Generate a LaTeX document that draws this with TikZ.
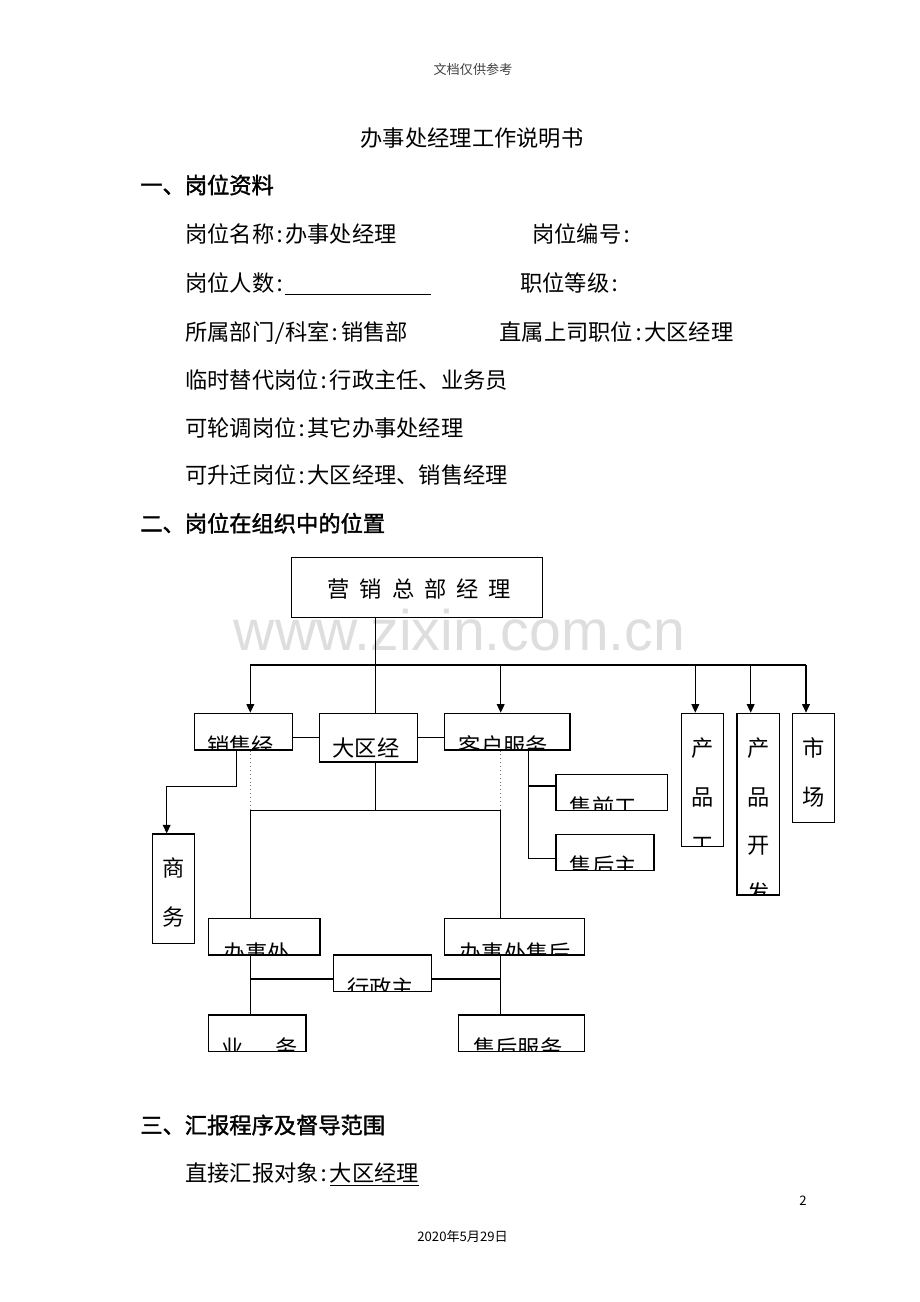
\documentclass[tikz,border=0pt]{standalone}
\usepackage{fontspec}
\setmainfont{Noto Sans CJK SC}[CharacterWidth=Half]
\newfontfamily\headfont{Noto Sans CJK SC}[CharacterWidth=Half,FakeBold=1.6]
\newfontfamily\numfont{Noto Sans CJK SC}
\newfontfamily\wmfont{Liberation Sans}
\usetikzlibrary{arrows.meta}
\tikzstyle{orgbox} = [rectangle, draw=black, line width=0.8pt, inner sep=0pt]
\tikzstyle{link} = [line width=0.75pt]
\tikzstyle{arrow} = [line width=0.75pt,-{Triangle[length=5.5pt,width=5pt]}]
\tikzstyle{dots} = [dotted, black!55, line width=0.5pt]
\tikzstyle{boxtext} = [inner sep=0pt, minimum width=0pt, minimum height=0pt, draw=none, fill=none, font=\fontsize{14.4pt}{17pt}\selectfont]
\tikzstyle{doctext} = [anchor=base west, inner sep=0pt, font=\fontsize{14.4pt}{17pt}\selectfont]
\tikzstyle{small} = [inner sep=0pt, font=\numfont\fontsize{8.5pt}{10pt}\selectfont]
\tikzstyle{wmark} = [anchor=base, inner sep=0pt, text=black!13, font=\wmfont\fontsize{37pt}{40pt}\selectfont]
% box size in picture pixels
\tikzset{size/.style 2 args={minimum width=#1*0.64705pt, minimum height=#2*0.64705pt}}
% text cut off by the box border
\tikzset{cuttext/.style n args={3}{path picture={\node[boxtext,anchor=north west] at ([shift={(#1,#2)}]path picture bounding box.north west) {#3};}}}
\tikzset{vtext/.style 2 args={path picture={\node[boxtext,anchor=north,align=center,font=\fontsize{14.4pt}{31.3pt}\selectfont] at ([shift={(0,#1)}]path picture bounding box.north) {#2};}}}

\begin{document}
\begin{tikzpicture}[x=0.64705pt, y=-0.64705pt]
    \useasboundingbox (0,0) rectangle (920,1302);
    \node[wmark] (wm) at (459.5,650) {www.zixin.com.cn};

    % page text
    \node[small, text=black!75] (hd) at (473,69) {文档仅供参考};
    \node[boxtext] (title) at (472,138.3) {办事处经理工作说明书};
    \node[doctext] (sec1) at (140,193.5) {\headfont 一、岗位资料};
    \node[doctext] (gw1) at (185,242.5) {岗位名称:办事处经理};
    \node[doctext] (gw2) at (532,242.5) {岗位编号:};
    \node[doctext] (gw3) at (185,291.8) {岗位人数:\underline{\hspace{94pt}}};
    \node[doctext] (gw4) at (520,291.8) {职位等级:};
    \node[doctext] (gw5) at (185,340.2) {所属部门/科室:销售部};
    \node[doctext] (gw6) at (499.4,340.2) {直属上司职位:大区经理};
    \node[doctext] (gw7) at (185,388.5) {临时替代岗位:行政主任、业务员};
    \node[doctext] (gw8) at (185,436.8) {可轮调岗位:其它办事处经理};
    \node[doctext] (gw9) at (185,483.5) {可升迁岗位:大区经理、销售经理};
    \node[doctext] (sec2) at (140,531.8) {\headfont 二、岗位在组织中的位置};
    \node[doctext] (sec3) at (140,1133.5) {\headfont 三、汇报程序及督导范围};
    \node[doctext] (hb1) at (185,1181.5) {直接汇报对象:\underline{大区经理}};
    \node[small] (pg) at (803,1201) {2};
    \node[small] (date) at (462.6,1236.7) {2020年5月29日};

    % org chart boxes
    \node[orgbox, size={250.6}{60}, cuttext={35.3}{21}{营\hspace{.45em}销\hspace{.45em}总\hspace{.45em}部\hspace{.45em}经\hspace{.45em}理}] (zb) at (417,587.3) {};
    \node[orgbox, size={98}{36.7}, cuttext={12.4}{21.7}{销售经}] (xs) at (243.3,731.65) {};
    \node[orgbox, size={97.6}{48.7}, cuttext={12.3}{23.4}{大区经}] (dq) at (368.5,737.65) {};
    \node[orgbox, size={125.3}{36.7}, cuttext={13.6}{21.7}{客户服务}] (kh) at (507.35,731.65) {};
    \node[orgbox, size={111.3}{36}, cuttext={13.3}{21.5}{售前工}] (sq) at (611.65,792.3) {};
    \node[orgbox, size={98}{36.4}, cuttext={13.3}{21}{售后主}] (sh) at (605,852.5) {};
    \node[orgbox, size={42}{133.4}, vtext={24}{产\\品\\工}] (cpg) at (702.3,780) {};
    \node[orgbox, size={42.3}{181.7}, vtext={24}{产\\品\\开\\发}] (cpk) at (758.15,804.15) {};
    \node[orgbox, size={42}{109.4}, vtext={24}{市\\场}] (sc) at (813.7,768) {};
    \node[orgbox, size={42}{109.3}, vtext={23.5}{商\\务}] (sw) at (173.7,888.65) {};
    \node[orgbox, size={111.7}{36.7}, cuttext={14.4}{23.4}{办事处}] (bs) at (264.15,936.65) {};
    \node[orgbox, size={139.6}{36.7}, cuttext={14.3}{23.4}{办事处售后}] (bsh) at (514.5,936.65) {};
    \node[orgbox, size={97.6}{36.3}, cuttext={13}{21.7}{行政主}] (xz) at (382.5,973.15) {};
    \node[orgbox, size={97.7}{36.3}, cuttext={12.4}{21.7}{业\hspace{1.45em}务}] (yw) at (257.15,1033.15) {};
    \node[orgbox, size={125.6}{36.3}, cuttext={14}{21.7}{售后服务}] (sf) at (521.5,1033.15) {};

    \coordinate (j0) at (375.3,665);
    \coordinate (b1) at (250.3,665);
    \coordinate (b2) at (500.7,665);
    \coordinate (b3) at (695.3,665);
    \coordinate (b4) at (750.7,665);
    \coordinate (b5) at (806,665);
    \coordinate (hb) at (375.3,810.3);
    \coordinate (m) at (375.3,979);
    \coordinate (sa) at (236.7,786.7);
    \coordinate (sb) at (166.7,786.7);
    \coordinate (ka) at (528.3,786);
    \coordinate (kb) at (528.3,858.3);

    % connectors
    \draw[link] (zb.south -| j0) -- (dq.north -| j0);
    \draw[link] (b1) -- (b5);
    \foreach \c/\n in {b1/xs,b2/kh,b3/cpg,b4/cpk,b5/sc}
        \draw[arrow] (\c) -- (\c |- \n.north);
    \draw[link] (dq.west) -- (dq.west -| xs.east);
    \draw[link] (dq.east) -- (dq.east -| kh.west);
    \draw[arrow] (sa |- xs.south) |- (sb) -- (sb |- sw.north);
    \draw[dots] (b1 |- xs.south) -- (b1 |- hb);
    \draw[dots] (b2 |- kh.south) -- (b2 |- hb);
    \draw[link] (dq.south -| j0) -- (hb);
    \draw[link] (b1 |- bs.north) |- (hb) -| (b2 |- bsh.north);
    \draw[link] (kb |- kh.south) -- (kb) -- (kb -| sh.west);
    \draw[link] (ka) -- (ka -| sq.west);
    \draw[link] (b1 |- bs.south) -- (b1 |- yw.north);
    \draw[link] (b2 |- bsh.south) -- (b2 |- sf.north);
    \draw[link] (b1 |- m) -- (xz.west |- m);
    \draw[link] (xz.east |- m) -- (b2 |- m);
\end{tikzpicture}
\end{document}
